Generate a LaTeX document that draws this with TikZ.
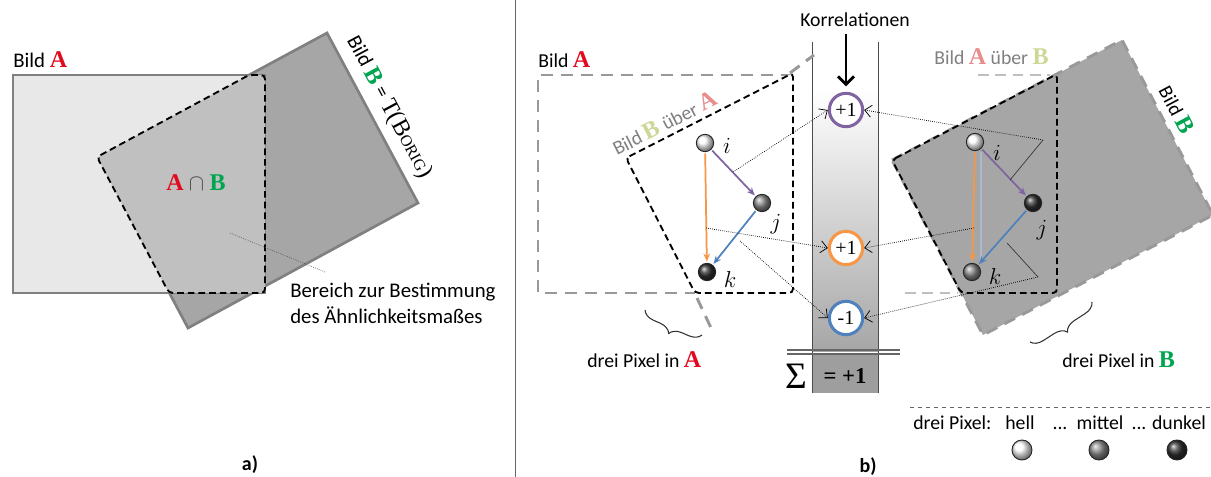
\documentclass[tikz,border=0pt]{standalone}
\usepackage{fontspec}
\setmainfont{Carlito}
\newfontfamily\serif{Liberation Serif}
\usetikzlibrary{arrows.meta,decorations.pathreplacing,calc}
\definecolor{redA}{RGB}{225,10,30}
\definecolor{grnB}{RGB}{0,165,80}
\definecolor{fadeA}{RGB}{232,140,140}
\definecolor{fadeB}{RGB}{205,215,150}
\definecolor{pur}{RGB}{128,100,162}
\definecolor{ora}{RGB}{247,150,70}
\definecolor{blu}{RGB}{79,129,189}
\definecolor{lightA}{RGB}{232,232,232}
\definecolor{midI}{RGB}{192,192,192}
\definecolor{darkB}{RGB}{166,166,166}
\newcommand{\lettA}[1][redA]{{\serif\bfseries\fontsize{18}{18}\selectfont\color{#1}A}}
\newcommand{\lettB}[1][grnB]{{\serif\bfseries\fontsize{18}{18}\selectfont\color{#1}B}}
\begin{document}
\begin{tikzpicture}[x=0.75pt,y=-0.75pt,
  ta/.style={font=\fontsize{15.6}{19}\selectfont, inner sep=0pt},
  tb/.style={font=\fontsize{14.8}{17}\selectfont, inner sep=0pt},
  mth/.style={font=\fontsize{18}{18}\selectfont, inner sep=0pt},
  sph/.style={circle, draw=black!85, line width=0.7pt, minimum size=13pt, inner sep=0pt},
  corr/.style={circle, draw, line width=2.3pt, fill=white, minimum size=25pt, inner sep=0pt, font=\serif\fontsize{15}{15}\selectfont},
  dotarr/.style={densely dotted, line width=0.55pt, -{Straight Barb[length=5pt,width=9pt]}},
  thinl/.style={line width=0.5pt, black!80},
  gdash/.style={draw=black!40, line width=2.2pt, dash pattern=on 9pt off 6pt},
  ldash/.style={draw=black!25, line width=1.8pt, dash pattern=on 8pt off 5pt},
  kdash/.style={draw=black, line width=1.4pt, dash pattern=on 5pt off 3pt},
  parr/.style={line width=1.3pt, -{Stealth[length=6pt,width=5pt]}, shorten <=1pt, shorten >=1pt},
  brc/.style={decorate, decoration={brace, amplitude=9pt}, line width=0.8pt, black!80},
]
\useasboundingbox (0,0) rectangle (1211,477);
\fill[white] (0,0) rectangle (1211,477);

% ---------------- panel a ----------------
\filldraw[fill=darkB, draw=black!50, line width=2pt] (97,157) -- (327,33) -- (418,203) -- (188,328) -- cycle;
\filldraw[fill=lightA, draw=black!50, line width=2pt] (13,75) rectangle (265,293);
\filldraw[fill=midI, kdash, rounded corners=3pt] (97,157) -- (249,75) -- (265,75) -- (265,293) -- (169,293) -- cycle;
\node[ta, anchor=base west] (lA) at (13,68) {Bild \lettA};
\node[ta, anchor=base, rotate=-61.8] (lB) at (384,110) {Bild \lettB{} = {\serif\fontsize{18}{18}\selectfont T(B{\fontsize{12}{12}\selectfont ORIG})}};
\node[inner sep=0pt] (cap) at (196,183) {\lettA\hspace{4pt}{\fontsize{18}{18}\selectfont\color{black!70}$\cap$}\hspace{4pt}\lettB};
\coordinate (ld1) at (230,233);
\coordinate (ld2) at (325,272);
\draw[densely dotted, black!70, line width=0.5pt] (ld1) -- (ld2);
\node[ta, anchor=base west] (ber1) at (290,298) {Bereich zur Bestimmung};
\node[ta, anchor=base west] (ber2) at (290,324) {des Ähnlichkeitsmaßes};
\node[ta, anchor=base, font=\fontsize{15}{15}\selectfont\bfseries] (pa) at (250,470) {a)};

\draw[black!60, line width=0.6pt] (515,0) -- (515,477);

% ---------------- panel b: correlation column ----------------
\fill[white] (812,42) rectangle (878,90);
\shade[top color=white, bottom color=black!35] (812,90) rectangle (878,352);
\fill[black!38] (812,353) rectangle (878,393);
\draw[black!70, line width=0.7pt] (812,42) -- (812,393);
\draw[black!70, line width=0.7pt] (878,42) -- (878,393);
\draw[black!60, line width=0.8pt] (787,350) -- (900,350);
\draw[black!60, line width=0.8pt] (787,354) -- (900,354);
\node[tb, anchor=base] (kor) at (855,27) {Korrelationen};
\node[corr, draw=pur] (c1) at (846,110) {+1};
\node[corr, draw=ora] (c2) at (846,248) {+1};
\node[corr, draw=blu] (c3) at (846,318) {-1};
\draw[line width=2.2pt, -{Straight Barb[length=6pt,width=12pt]}, shorten <=5pt, shorten >=4pt] (kor.south -| c1.north) -- (c1.north);
\node[anchor=base, inner sep=0pt, font=\serif\fontsize{28}{28}\selectfont] (sig) at (796,388) {Σ};
\node[anchor=base, inner sep=0pt, font=\serif\bfseries\fontsize{17}{17}\selectfont] (sum) at (845,384) {= +1};

% ---------------- panel b: left ----------------
\draw[gdash] (793,75) -- (538,75) -- (538,293) -- (695,293);
\draw[gdash] (790,73) -- (814,55);
\draw[gdash] (697,298) -- (712,330);
\filldraw[fill=white, kdash, rounded corners=3pt] (626,158) -- (793,73) -- (793,293) -- (695,293) -- cycle;
\node[tb, anchor=base west] (lbA) at (538,68) {Bild \lettA};
\node[tb, anchor=base, rotate=27] (lbBA) at (668,130) {{\color{black!50}Bild} \lettB[fadeB] {\color{black!50}über} \lettA[fadeA]};

\node[sph, ball color=white] (Ai) at (705,143) {};
\node[sph, ball color=black!45] (Aj) at (762,203) {};
\node[sph, ball color=black!80] (Ak) at (707,272) {};
\node[mth] (Ail) at (727,146) {$i$};
\node[mth] (Ajl) at (776,224) {$j$};
\node[mth] (Akl) at (730,280) {$k$};
\draw[parr, pur] (Ai) -- (Aj);
\draw[parr, ora] (Ai) -- (Ak);
\draw[parr, blu] (Aj) -- (Ak);
\coordinate (As1) at (733,172);
\coordinate (As2) at (706,228);
\coordinate (As3) at (740,241);
\draw[dotarr] (As1) -- (c1.west);
\draw[dotarr] (As2) -- (c2.west);
\draw[dotarr] (As3) -- (c3.west);

\coordinate (brA1) at (702,335);
\coordinate (brA2) at (645,310);
\draw[brc] (brA1) -- (brA2);
\node[tb, anchor=base west] (dpA) at (587,368) {drei Pixel in \lettA};

% ---------------- panel b: right ----------------
\filldraw[fill=darkB, gdash] (892,160) -- (1122,40) -- (1213,215) -- (983,335) -- cycle;
\draw[kdash, rounded corners=3pt] (892,160) -- (1057,74) -- (1057,293) -- (961,293) -- cycle;
\draw[ldash] (978,75) -- (1050,75);
\draw[ldash] (905,293) -- (958,293);
\node[tb, anchor=base west] (lbAB) at (934,65) {{\color{black!50}Bild} \lettA[fadeA] {\color{black!50}über} \lettB[fadeB]};
\node[tb, anchor=base, rotate=-62] (lbB) at (1170,113) {Bild \lettB};

\node[sph, ball color=white] (Bi) at (975,142) {};
\node[sph, ball color=black!80] (Bj) at (1033,203) {};
\node[sph, ball color=black!45] (Bk) at (972,272) {};
\node[mth] (Bil) at (997,153) {$i$};
\node[mth] (Bjl) at (1042,230) {$j$};
\node[mth] (Bkl) at (995,277) {$k$};
\coordinate (Bsh1) at (981,152);
\coordinate (Bsh2) at (981,262);
\draw[line width=1pt, color={rgb,255:red,170;green,185;blue,205}] (Bsh1) -- (Bsh2);
\draw[parr, pur] (Bi) -- (Bj);
\draw[parr, ora] (Bi) -- (Bk);
\draw[parr, blu] (Bj) -- (Bk);
\coordinate (Bs1a) at (1010,180);
\coordinate (Bs1) at (1043,140);
\coordinate (Bs2) at (974,228);
\coordinate (Bs3a) at (1007,243);
\coordinate (Bs3) at (1038,277);
\draw[thinl] (Bs1a) -- (Bs1);
\draw[thinl] (Bs3a) -- (Bs3);
\draw[dotarr] (Bs1) -- (c1.east);
\draw[dotarr] (Bs2) -- (c2.east);
\draw[dotarr] (Bs3) -- (c3.east);

\coordinate (brB1) at (1092,302);
\coordinate (brB2) at (1030,342);
\draw[brc] (brB1) -- (brB2);
\node[tb, anchor=base west] (dpB) at (1062,368) {drei Pixel in \lettB};

% ---------------- legend ----------------
\draw[black!60, line width=0.6pt, dashed] (910,407) -- (1211,407);
\node[tb, anchor=base west] (lg0) at (913,430) {drei Pixel:};
\node[tb, anchor=base] (lg1) at (1020,430) {hell};
\node[tb, anchor=base] (lg2) at (1060,430) {...};
\node[tb, anchor=base] (lg3) at (1100,430) {mittel};
\node[tb, anchor=base] (lg4) at (1139,430) {...};
\node[tb, anchor=base] (lg5) at (1179,430) {dunkel};
\node[sph, ball color=white, minimum size=15pt] (s1) at (1022,450) {};
\node[sph, ball color=black!45, minimum size=15pt] (s2) at (1099,450) {};
\node[sph, ball color=black!80, minimum size=15pt] (s3) at (1177,450) {};
\node[tb, anchor=base, font=\fontsize{15}{15}\selectfont\bfseries] (pb) at (868,472) {b)};
\end{tikzpicture}
\end{document}
